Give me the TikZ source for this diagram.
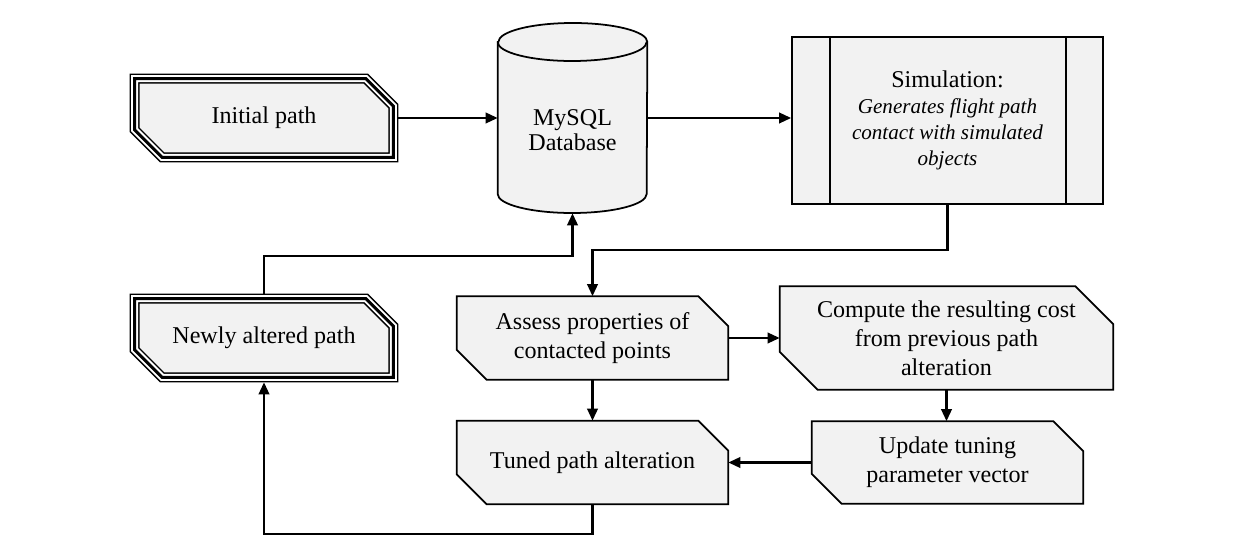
\documentclass[tikz,border=0pt]{standalone}
\usepackage{fontspec}
\setmainfont{Liberation Serif}
\definecolor{boxfill}{RGB}{242,242,242}
\usetikzlibrary{arrows.meta,positioning,shapes.geometric,calc,backgrounds}

% chamfered outline round a node: options, node, inset, cut
\newcommand\cutbox[4][]{%
  \draw[#1] ([shift={(#3,-#3)}]#2.north west)
    -- ([shift={(-#3-#4,-#3)}]#2.north east)
    -- ([shift={(-#3,-#3-#4)}]#2.north east)
    -- ([shift={(-#3,#3)}]#2.south east)
    -- ([shift={(#3+#4,#3)}]#2.south west)
    -- ([shift={(#3,#3+#4)}]#2.south west) -- cycle;}

\begin{document}
\begin{tikzpicture}[
  plate/.style={align=center,inner sep=0pt,font=\fontsize{13.7}{16.5}\selectfont},
  arr/.style={-{Triangle[length=2.4mm,width=2.1mm]},line width=1.3pt},
  outline/.style={line width=1pt},
  ends/.style={x radius=1.49cm,y radius=0.38cm}
]
  \useasboundingbox (0,0) rectangle (24.94,10.88);

  % top row
  \node[plate,minimum width=5.36cm,minimum height=1.76cm] (init) at (5.28,8.52) {Initial path};
  \node[minimum width=2.98cm,minimum height=3.8cm,inner sep=0pt] (db) at (11.45,8.52) {};
  \draw[outline,fill=boxfill] ([yshift=1.52cm]db.west) -- ([yshift=-1.52cm]db.west)
    arc[start angle=180,end angle=360,ends] -- ([yshift=1.52cm]db.east)
    arc[start angle=0,end angle=180,ends] -- cycle;
  \draw[outline] ([yshift=1.52cm]db.west) arc[start angle=180,end angle=360,ends];
  \node[plate,font=\fontsize{13.7}{14.4}\selectfont] (dbtext) at ([yshift=-0.24cm]db.center)
    {MySQL\\Database};
  \node[plate,draw,outline,fill=boxfill,minimum width=6.22cm,minimum height=3.34cm,
    font=\fontsize{13.7}{14.8}\selectfont] (sim) at (18.95,8.47)
    {Simulation:\\{\fontsize{12}{14.8}\selectfont\itshape Generates flight path}\\
     {\fontsize{12}{14.8}\selectfont\itshape contact with simulated}\\
     {\fontsize{12}{14.8}\selectfont\itshape objects}};
  \draw[outline] ([xshift=0.78cm]sim.north west) -- ([xshift=0.78cm]sim.south west);
  \draw[outline] ([xshift=-0.76cm]sim.north east) -- ([xshift=-0.76cm]sim.south east);

  % lower part
  \node[plate,minimum width=5.36cm,minimum height=1.76cm] (newp) at (5.28,4.12) {Newly altered path};
  \node[plate,minimum width=5.42cm,minimum height=1.66cm] (assess) at (11.85,4.12)
    {Assess properties of\\contacted points};
  \node[plate,minimum width=6.66cm,minimum height=2.06cm] (cost) at (18.93,4.12)
    {Compute the resulting cost\\from previous path\\alteration};
  \node[plate,minimum width=5.42cm,minimum height=1.66cm] (tuned) at (11.85,1.63)
    {Tuned path alteration};
  \node[plate,minimum width=5.42cm,minimum height=1.64cm] (update) at (18.95,1.63)
    {Update tuning\\parameter vector};

  \begin{pgfonlayer}{background}
    \foreach \n in {init,newp} {
      \cutbox[fill=boxfill,line width=0.2cm]{\n}{0.1}{0.55}
      \cutbox[white,line width=0.14cm]{\n}{0.1}{0.55}
      \cutbox[line width=0.06cm]{\n}{0.1}{0.55}
    }
    \foreach \n/\c in {assess/0.6,cost/0.76,tuned/0.6,update/0.6} {
      \cutbox[fill=boxfill,outline]{\n}{0}{\c}
    }
  \end{pgfonlayer}

  % connectors
  \draw[arr] (init.east) -- (init.east -| db.west);
  \draw[arr] (init.east -| db.east) -- (init.east -| sim.west);
  \draw[arr] (sim.south) -- ++(0,-0.9) -| (assess.north);
  \draw[arr] (assess.east) -- (assess.east -| cost.west);
  \draw[arr] (assess.south) -- (tuned.north);
  \draw[arr] (cost.south) -- (cost.south |- update.north);
  \draw[arr] (update.west) -- (update.west -| tuned.east);
  \draw[arr] (tuned.south) -- ++(0,-0.6) -| (newp.south);
  \draw[arr] (newp.north) -- ++(0,0.76) -| (db.south);
\end{tikzpicture}
\end{document}
